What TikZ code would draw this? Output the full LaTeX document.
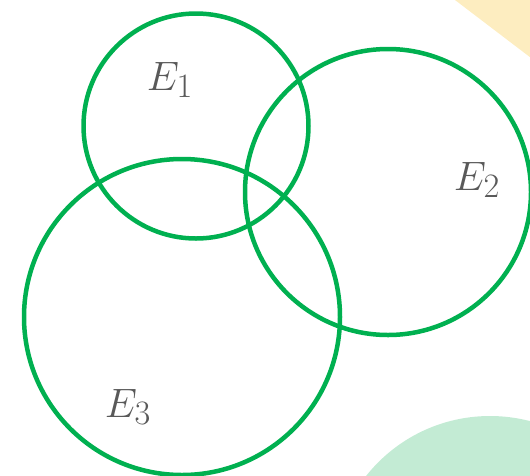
\documentclass[tikz,border=0pt]{standalone}
\usepackage{graphicx}
\usepackage{tikz}
\usepackage{xcolor}
\definecolor{setgreen}{RGB}{0,176,80}
\definecolor{labelgray}{RGB}{89,89,89}
\definecolor{softyellow}{RGB}{253,237,192}
\definecolor{softmint}{RGB}{195,235,212}
\newcommand{\setname}[1]{\scalebox{1.65}{$E_{#1}$}}

\begin{document}
\begin{tikzpicture}[x=1pt,y=-1pt,
  setcircle/.style={circle,draw=setgreen,line width=4.5pt,inner sep=0pt},
  setlabel/.style={text=labelgray,font=\fontsize{24.88}{30}\selectfont}]
  \useasboundingbox (0,0) rectangle (530,475);
  \clip (0,0) rectangle (530,475);
  % background shapes
  \fill[softyellow] (455,0) -- (560,0) -- (560,80) -- cycle;
  \fill[softmint] (490,574) circle[radius=158];

  \node[setcircle,minimum size=225pt] (e1) at (196,126) {};
  \node[setcircle,minimum size=286pt] (e2) at (388,192) {};
  \node[setcircle,minimum size=316pt] (e3) at (182,317) {};

  \node[setlabel] (l1) at (170,80) {\setname{1}};
  \node[setlabel] (l2) at (477,180) {\setname{2}};
  \node[setlabel] (l3) at (128,407) {\setname{3}};
\end{tikzpicture}
\end{document}
